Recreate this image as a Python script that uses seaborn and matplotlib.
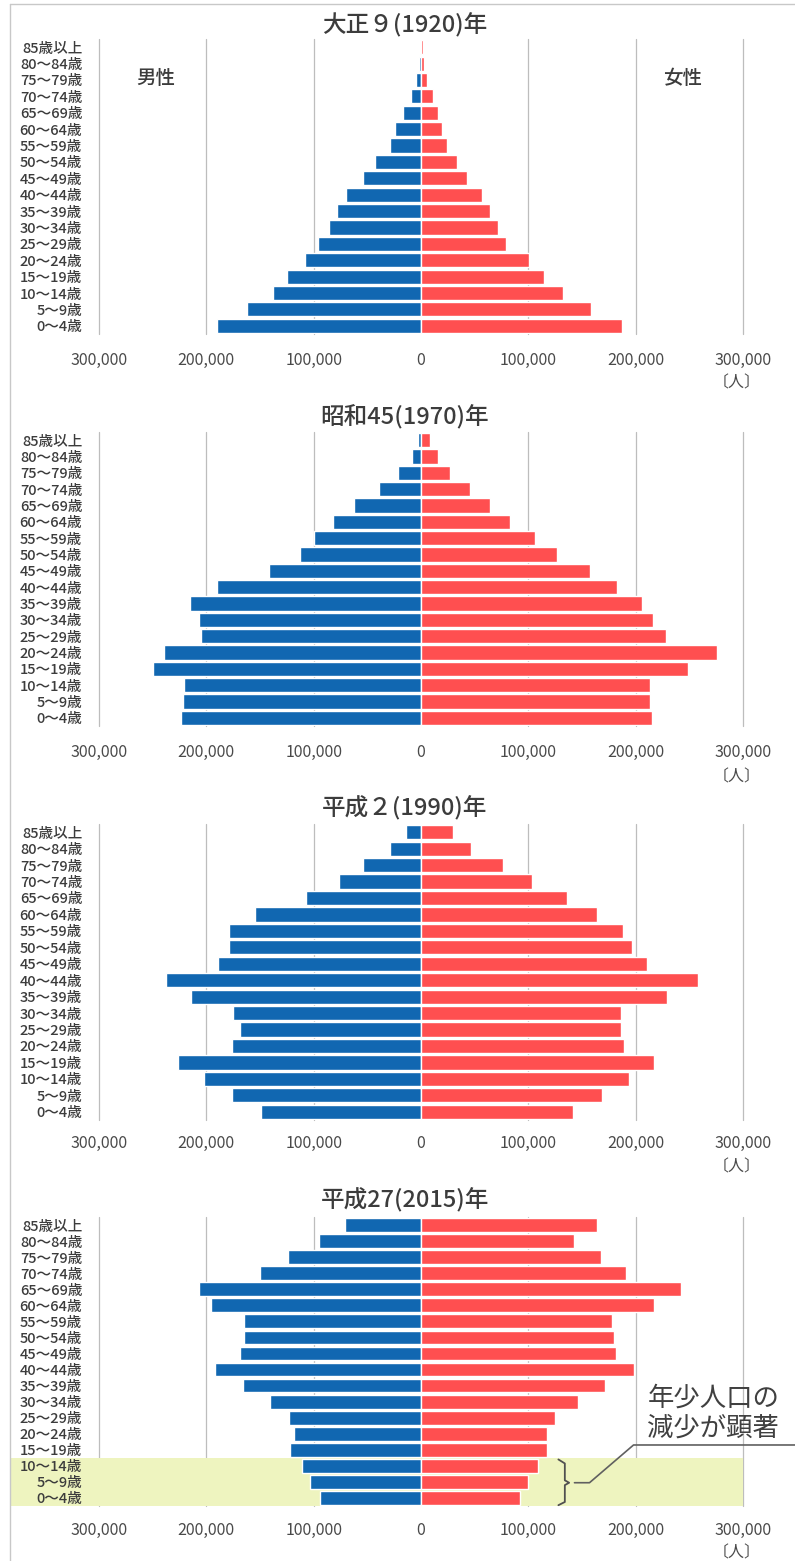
import pandas as pd
import seaborn as sns
import matplotlib.pyplot as plt
from matplotlib.lines import Line2D

# === data (people) ===
ages = ["85歳以上", "80～84歳", "75～79歳", "70～74歳", "65～69歳", "60～64歳",
        "55～59歳", "50～54歳", "45～49歳", "40～44歳", "35～39歳", "30～34歳",
        "25～29歳", "20～24歳", "15～19歳", "10～14歳", "5～9歳", "0～4歳"]

titles = ["大正９(1920)年", "昭和45(1970)年", "平成２(1990)年", "平成27(2015)年"]

male_1920 = [1000, 2000, 5000, 9500, 16500, 24000, 29000, 43000, 54000, 70000,
             78000, 86000, 96000, 108000, 125000, 138000, 162000, 190000]
female_1920 = [2000, 3000, 6000, 11000, 16000, 20000, 24000, 34000, 43000, 57000,
               64000, 72000, 79000, 101000, 115000, 132000, 158000, 187000]

male_1970 = [3000, 8500, 21000, 39000, 62000, 82000, 100000, 113000, 142000, 190000,
             215000, 207000, 205000, 239000, 250000, 221000, 222000, 224000]
female_1970 = [8000, 16000, 27000, 46000, 64000, 83000, 106000, 127000, 157000, 183000,
               206000, 216000, 228000, 276000, 249000, 213000, 213000, 215000]

male_1990 = [14000, 29000, 54000, 76000, 107000, 155000, 179000, 179000, 189000, 238000,
             214000, 175000, 169000, 176000, 226000, 202000, 176000, 149000]
female_1990 = [30000, 47000, 76000, 103000, 136000, 164000, 188000, 197000, 211000, 258000,
               229000, 186000, 186000, 189000, 217000, 194000, 169000, 142000]

male_2015 = [71000, 95000, 124000, 150000, 207000, 196000, 165000, 165000, 169000, 192000,
             166000, 141000, 123000, 118000, 122000, 111000, 103000, 94000]
female_2015 = [164000, 143000, 168000, 191000, 242000, 217000, 178000, 180000, 182000, 198000,
               171000, 146000, 125000, 117000, 117000, 109000, 100000, 92000]

males = [male_1920, male_1970, male_1990, male_2015]
females = [female_1920, female_1970, female_1990, female_2015]

ticks = [-300000, -200000, -100000, 0, 100000, 200000, 300000]

BLUE = "#1167b1"
RED = "#ff4f50"
GRID = "#bdbdbd"
TXT = "#3c3c3c"

sns.set_style("white")
plt.rcParams["font.family"] = ["Noto Sans CJK JP", "DejaVu Sans"]

W, H = 795, 1561
fig = plt.figure(figsize=(W / 100, H / 100), dpi=100)

# panel placement in pixels: (axes top, axes bottom, title y, tick y, unit y)
panels = [
    (39, 334, 25, 360, 383),
    (432, 726, 417, 752, 777),
    (824, 1120, 808, 1143, 1167),
    (1217, 1506, 1200, 1530, 1553),
]
left_px, right_px = 99, 743

for i, (top, bot, ty, tky, uy) in enumerate(panels):
    ax = fig.add_axes([left_px / W, 1 - bot / H, (right_px - left_px) / W, (bot - top) / H])
    df = pd.DataFrame({"age": ages,
                       "male": [-v for v in males[i]],
                       "female": females[i]})

    for v in ticks:
        if v != 0:
            ax.axvline(v, color=GRID, lw=0.9, zorder=0, clip_on=False)

    sns.barplot(data=df, x="male", y="age", orient="h", color=BLUE,
                saturation=1, width=0.86, ax=ax, zorder=2)
    sns.barplot(data=df, x="female", y="age", orient="h", color=RED,
                saturation=1, width=0.86, ax=ax, zorder=2)

    ax.set_xlim(-300000, 300000)
    ax.set_ylim(len(ages) - 0.5, -0.5)
    sns.despine(ax=ax, left=True, bottom=True)
    ax.set_xlabel("")
    ax.set_ylabel("")

    # y labels
    ax.tick_params(axis="y", length=0, pad=12, labelsize=10.5, labelcolor=TXT)
    for lab in ax.get_yticklabels():
        lab.set_fontweight("medium")

    # x tick labels placed at the reference height
    pad_pt = (tky - bot - 8) * 0.72
    ax.set_xticks(ticks)
    ax.set_xticklabels([f"{abs(v):,}" for v in ticks])
    ax.tick_params(axis="x", length=0, pad=pad_pt, labelsize=11.5, labelcolor="#4a4a4a")

    fig.text(405 / W, 1 - ty / H, titles[i], ha="center", va="center",
             fontsize=17, color=TXT, fontweight="medium")
    fig.text(737 / W, 1 - uy / H, "〔人〕", ha="center", va="center",
             fontsize=11.5, color="#4a4a4a")

    if i == 0:
        ax.text(-247000, 1.9, "男性", ha="center", va="center", fontsize=14,
                color=TXT, fontweight="medium")
        ax.text(244000, 1.9, "女性", ha="center", va="center", fontsize=14,
                color=TXT, fontweight="medium")

    if i == 3:
        # highlight young population rows
        xmin = (10 - left_px) / (right_px - left_px)
        ax.axhspan(14.5, 17.5, xmin=xmin, xmax=1, color="#eef4bf", zorder=0,
                   clip_on=False, lw=0)
        # bracket
        bx = [128000, 134000, 134000, 138000, 134000, 134000, 128000]
        by = [14.6, 14.85, 15.9, 16.05, 16.2, 17.25, 17.45]
        ax.add_line(Line2D(bx, by, color="#505050", lw=1.3, clip_on=False, zorder=3))
        # leader line
        lx = [143000, 157000, 198000, 350000]
        ly = [16.05, 16.05, 13.7, 13.7]
        ax.add_line(Line2D(lx, ly, color="#606060", lw=1.2, clip_on=False, zorder=3))
        ax.text(211000, 11.7, "年少人口の\n減少が顕著", ha="left", va="center",
                fontsize=19, color="#404040", linespacing=1.15, clip_on=False)

# thin frame around the figure
fig.add_artist(Line2D([10 / W, 10 / W], [0, 1 - 4 / H], color="#c8c8c8", lw=1))
fig.add_artist(Line2D([10 / W, 1], [1 - 4 / H, 1 - 4 / H], color="#c8c8c8", lw=1))

fig.savefig("out.png", dpi=100)
plt.close(fig)
